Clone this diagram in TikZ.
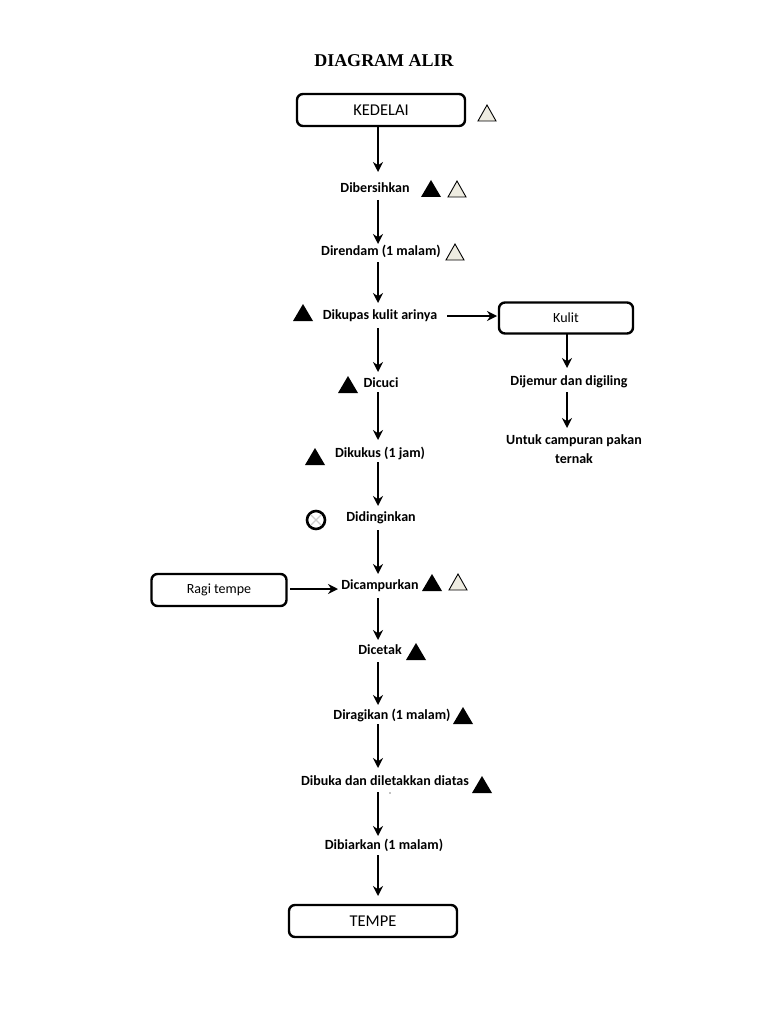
\documentclass[tikz,border=0pt]{standalone}
\usepackage{fontspec}
\setmainfont{Carlito}
\newfontfamily\titlefont{Liberation Serif}
\usetikzlibrary{arrows.meta}
\definecolor{tri}{RGB}{238,236,225}
\begin{document}
\begin{tikzpicture}[x=1pt,y=-1pt,
  box/.style={draw,line width=2.4pt,rounded corners=6pt,inner sep=0pt},
  lab/.style={font=\bfseries\fontsize{14}{16}\selectfont,inner sep=1pt},
  arr/.style={-{Stealth[length=10pt,width=10pt]},line width=2.8pt},
  wt/.style={fill=tri,draw=black,line width=0.9pt}]
\useasboundingbox (0,0) rectangle (768,1024);
\newcommand\trib[2]{\fill (#1-10,#2+8) -- (#1+10,#2+8) -- (#1,#2-9) -- cycle;}
\newcommand\triw[2]{\filldraw[wt] (#1-9,#2+8) -- (#1+9,#2+8) -- (#1,#2-8) -- cycle;}
\node[font=\titlefont\bfseries\fontsize{18}{21}\selectfont] (title) at (384,61) {DIAGRAM ALIR};
\node[box,minimum width=168pt,minimum height=32pt,font=\fontsize{16.5}{19}\selectfont] (ked) at (381,110) {KEDELAI};
\triw{487}{113}
\node[lab] (s1) at (375,188) {Dibersihkan}; \trib{431}{189} \triw{457}{189}
\node[lab] (s2) at (381,251) {Direndam (1 malam)}; \triw{455}{252}
\node[lab] (s3) at (380,316) {Dikupas kulit arinya}; \trib{303}{313}
\node[box,minimum width=134pt,minimum height=31pt,font=\fontsize{14}{16}\selectfont] (kul) at (566,318) {Kulit};
\node[lab] (k1) at (569,382) {Dijemur dan digiling};
\node[lab,align=center,font=\bfseries\fontsize{14}{19}\selectfont] (k2) at (574,449) {Untuk campuran pakan\\ternak};
\node[lab] (s4) at (381,383) {Dicuci}; \trib{348}{385}
\node[lab] (s5) at (380,453) {Dikukus (1 jam)}; \trib{315}{457}
\node[lab] (s6) at (381,518) {Didinginkan};
\draw[line width=2.6pt] (316,520) circle (9);
\draw[gray!40,line width=1.2pt] (311,515) -- (321,525) (311,525) -- (321,515);
\node[lab] (s7) at (380,586) {Dicampurkan}; \trib{432}{583} \triw{458}{582}
\node[box,minimum width=135pt,minimum height=32pt,font=\fontsize{14}{16}\selectfont] (ragi) at (219,590) {Ragi tempe};
\node[lab] (s8) at (380,650) {Dicetak}; \trib{416}{652}
\node[lab] (s9) at (392,715) {Diragikan (1 malam)}; \trib{463}{716}
\node[lab] (s10) at (385,781) {Dibuka dan diletakkan diatas}; \trib{482}{785}
\fill (390,793) circle (0.6);
\node[lab] (s11) at (384,845) {Dibiarkan (1 malam)};
\node[box,minimum width=168pt,minimum height=32pt,font=\fontsize{16.5}{19}\selectfont] (tem) at (373,921) {TEMPE};
\draw[arr] (378,126) -- (378,172);
\draw[arr] (378,200) -- (378,244);
\draw[arr] (378,262) -- (378,303);
\draw[arr] (378,328) -- (378,372);
\draw[arr] (378,392) -- (378,440);
\draw[arr] (378,462) -- (378,506);
\draw[arr] (378,530) -- (378,574);
\draw[arr] (378,598) -- (378,640);
\draw[arr] (378,662) -- (378,705);
\draw[arr] (378,724) -- (378,768);
\draw[arr] (378,792) -- (378,836);
\draw[arr] (378,855) -- (378,896);
\coordinate (kw) at (497,316);
\draw[arr] (447,316) -- (kw);
\draw[arr] (567,334) -- (567,368);
\draw[arr] (567,392) -- (567,428);
\coordinate (rc) at (338,589);
\draw[arr] (290,589) -- (rc);
\end{tikzpicture}
\end{document}
